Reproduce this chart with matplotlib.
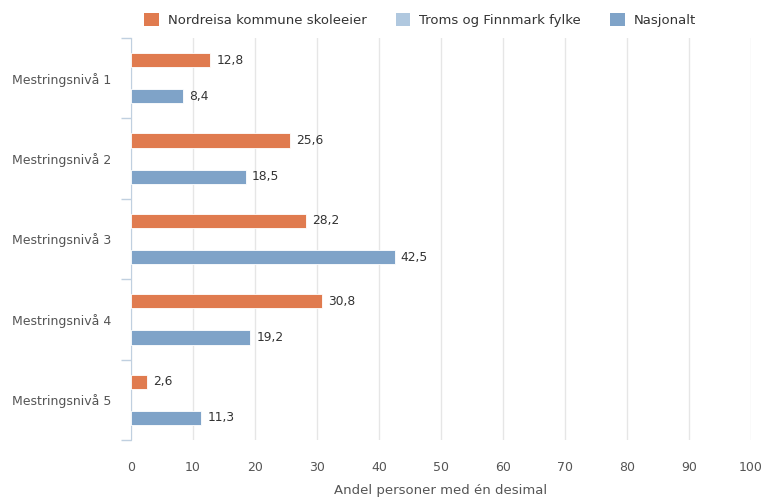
import numpy as np
import matplotlib.pyplot as plt
from matplotlib.patches import Patch

categories = ['Mestringsnivå 1', 'Mestringsnivå 2', 'Mestringsnivå 3',
              'Mestringsnivå 4', 'Mestringsnivå 5']
nordreisa = [12.8, 25.6, 28.2, 30.8, 2.6]
nasjonalt = [8.4, 18.5, 42.5, 19.2, 11.3]
series_names = ['Nordreisa kommune skoleeier', 'Troms og Finnmark fylke', 'Nasjonalt']
colors = ['#E07B4F', '#B0C8DF', '#7FA3C8']

text_color = '#555555'
plt.rcParams['font.family'] = 'DejaVu Sans'

fig = plt.figure(figsize=(7.64, 4.99), dpi=100)
ax = fig.add_axes([131 / 764, 1 - 440 / 499, 620 / 764, 402 / 499])

y = np.arange(len(categories))
h = 0.175
off = 0.225
b1 = ax.barh(y - off, nordreisa, height=h, color=colors[0], edgecolor='white', linewidth=0.6, zorder=3)
b2 = ax.barh(y + off, nasjonalt, height=h, color=colors[2], edgecolor='white', linewidth=0.6, zorder=3)

def fmt(v):
    return f'{v:.1f}'.replace('.', ',')

for bars, vals in ((b1, nordreisa), (b2, nasjonalt)):
    for bar, v in zip(bars, vals):
        ax.text(v + 1.0, bar.get_y() + bar.get_height() / 2, fmt(v),
                va='center', ha='left', fontsize=8.8, color='#333333')

ax.set_xlim(0, 100)
ax.set_ylim(len(categories) - 0.5, -0.5)
ax.set_xticks(np.arange(0, 101, 10))
ax.tick_params(axis='x', length=0, colors=text_color, labelsize=9, pad=15)
ax.set_yticks(y)
ax.set_yticklabels(categories)
ax.tick_params(axis='y', which='major', length=0, colors=text_color, labelsize=9, pad=14)
ax.set_yticks(np.arange(-0.5, len(categories), 1), minor=True)
ax.tick_params(axis='y', which='minor', length=7, color='#C0D0E0', width=1)

ax.grid(axis='x', color='#E6E6E6', linewidth=1, zorder=0)
for s in ('top', 'right', 'bottom'):
    ax.spines[s].set_visible(False)
ax.spines['left'].set_color('#C0D0E0')
ax.set_xlabel('Andel personer med én desimal', color=text_color, fontsize=9.5, labelpad=7)

handles = [Patch(facecolor=c, edgecolor='none') for c in colors]
fig.legend(handles, series_names, loc='upper center', bbox_to_anchor=(0.55, 0.997), ncol=3,
           frameon=False, fontsize=9.5, handlelength=1.1, handleheight=1.1,
           columnspacing=2.2, handletextpad=0.7, labelcolor='#333333')

fig.savefig('out.png', dpi=100)
